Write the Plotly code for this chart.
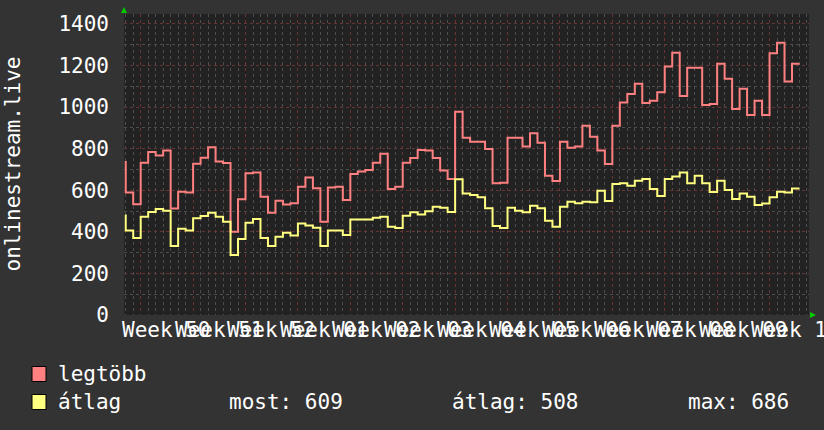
import pandas as pd
import plotly.graph_objects as go

# ---- data (daily values, timestamp = end of each day interval) ----
start_day = "2024-12-07"
legtobb = [741, 589, 533, 733, 784, 767, 791, 512, 593, 589,
           728, 757, 807, 738, 731, 401, 557, 682, 685, 569,
           492, 550, 531, 537, 617, 661, 610, 449, 613, 617,
           553, 678, 690, 698, 733, 776, 606, 617, 733, 755,
           794, 791, 755, 695, 654, 978, 853, 834, 834, 799,
           634, 636, 853, 853, 810, 874, 829, 670, 645, 834,
           805, 810, 911, 858, 791, 727, 911, 1022, 1063, 1112,
           1020, 1031, 1071, 1195, 1262, 1054, 1190, 1190, 1010, 1015,
           1209, 1137, 991, 1089, 962, 1031, 962, 1259, 1310, 1123,
           1209]
atlag = [484, 406, 370, 473, 496, 510, 502, 332, 415, 406,
         465, 476, 492, 473, 449, 289, 366, 444, 462, 370,
         332, 377, 396, 383, 440, 430, 420, 332, 407, 407,
         385, 459, 459, 459, 468, 473, 425, 419, 478, 494,
         484, 499, 521, 516, 496, 653, 585, 577, 566, 513,
         428, 419, 516, 502, 494, 526, 513, 454, 425, 521,
         545, 537, 545, 542, 598, 549, 630, 634, 622, 646,
         654, 606, 573, 654, 666, 686, 634, 670, 634, 592,
         646, 601, 558, 585, 569, 529, 536, 566, 593, 589,
         609]
series_names = ["legtöbb", "átlag"]
series_colors = ["#FF8080", "#FFFF80"]
stats = [("most", 609), ("átlag", 508), ("max", 686)]
y_ticks = [0, 200, 400, 600, 800, 1000, 1200, 1400]
y_title = "onlinestream.live"
x_range = ["2024-12-06 18:27", "2025-03-08 06:29"]
week_start = "2024-12-09"
week_labels = ["Week 50", "Week 51", "Week 52", "Week 01", "Week 02", "Week 03",
               "Week 04", "Week 05", "Week 06", "Week 07", "Week 08", "Week 09",
               "Week 10"]

dates = pd.date_range(start_day, periods=len(legtobb), freq="D")
week_mids = pd.date_range(week_start, periods=len(week_labels), freq="7D") + pd.Timedelta(hours=84)

FONT = "DejaVu Sans Mono"
W, H = 824, 430
L, R, T, B = 124, 15, 14, 115
PW, PH = W - L - R, H - T - B


def px(x):
    return (x - L) / PW


def py(y):
    return (H - B - y) / PH


fig = go.Figure()
for name, vals, col in zip(series_names, [legtobb, atlag], series_colors):
    fig.add_trace(go.Scatter(x=dates, y=vals, mode="lines", name=name,
                             line=dict(color=col, width=2, shape="vh"),
                             hoverinfo="skip"))

DAY = 86400000
fig.update_layout(
    width=W, height=H,
    margin=dict(l=L, r=R, t=T, b=B, autoexpand=False),
    paper_bgcolor="#333333",
    plot_bgcolor="#222222",
    showlegend=False,
    font=dict(family=FONT, size=21, color="#FFFFFF"),
    xaxis=dict(
        type="date", range=x_range, automargin=False,
        tick0=week_start, dtick=7 * DAY,
        showticklabels=False, ticks="",
        showgrid=True, gridcolor="#6A3434", griddash="dot", gridwidth=1,
        minor=dict(tick0=week_start, dtick=DAY, showgrid=True,
                   gridcolor="#4E4E4E", griddash="dot", gridwidth=1),
        zeroline=False, showline=False,
    ),
    yaxis=dict(
        range=[0, 1448], tickmode="array", tickvals=y_ticks, automargin=False,
        ticks="", ticklabelstandoff=14,
        showgrid=True, gridcolor="#6A3434", griddash="dot", gridwidth=1,
        minor=dict(dtick=100, tick0=0, showgrid=True,
                   gridcolor="#4E4E4E", griddash="dot", gridwidth=1),
        zeroline=False, showline=False,
        tickfont=dict(family=FONT, size=21, color="#FFFFFF"),
    ),
)

# week labels (centered in each week, overlapping like the original)
for xm, lab in zip(week_mids, week_labels):
    fig.add_annotation(text=lab, xref="x", yref="paper", x=xm, y=py(330),
                       xanchor="center", yanchor="middle", showarrow=False,
                       borderpad=0,
                       font=dict(family=FONT, size=21, color="#FFFFFF"))

# y-axis title
fig.add_annotation(text=y_title, xref="paper", yref="paper",
                   x=px(12), y=0.5, textangle=-90, showarrow=False,
                   xanchor="center", yanchor="middle",
                   font=dict(family=FONT, size=21, color="#FFFFFF"))

# axis arrows
fig.add_shape(type="path", xref="paper", yref="paper", layer="above",
              path=f"M {px(121)} {py(13)} L {px(127)} {py(13)} L {px(124)} {py(7)} Z",
              fillcolor="#00CC00", line=dict(width=0))
fig.add_shape(type="path", xref="paper", yref="paper", layer="above",
              path=f"M {px(810)} {py(312)} L {px(810)} {py(318)} L {px(816)} {py(315)} Z",
              fillcolor="#00CC00", line=dict(width=0))

# legend
rows_y = [374, 402]
for (name, col), yc in zip(zip(series_names, series_colors), rows_y):
    fig.add_shape(type="rect", xref="paper", yref="paper",
                  x0=px(32), x1=px(46), y0=py(yc - 7.5), y1=py(yc + 7.5),
                  fillcolor=col, line=dict(color="#000000", width=1))
    fig.add_annotation(text=name, xref="paper", yref="paper",
                       x=px(56), y=py(yc), xanchor="left", yanchor="middle",
                       showarrow=False,
                       font=dict(family=FONT, size=21, color="#FFFFFF"))

stat_x = [227, 450, 686]
for (label, val), sx in zip(stats, stat_x):
    fig.add_annotation(text=f"{label}: {val}", xref="paper", yref="paper",
                       x=px(sx), y=py(rows_y[1]), xanchor="left", yanchor="middle",
                       showarrow=False,
                       font=dict(family=FONT, size=21, color="#FFFFFF"))

fig.write_html("out.html", config={"displayModeBar": False},
               post_script="document.body.style.margin='0';")
